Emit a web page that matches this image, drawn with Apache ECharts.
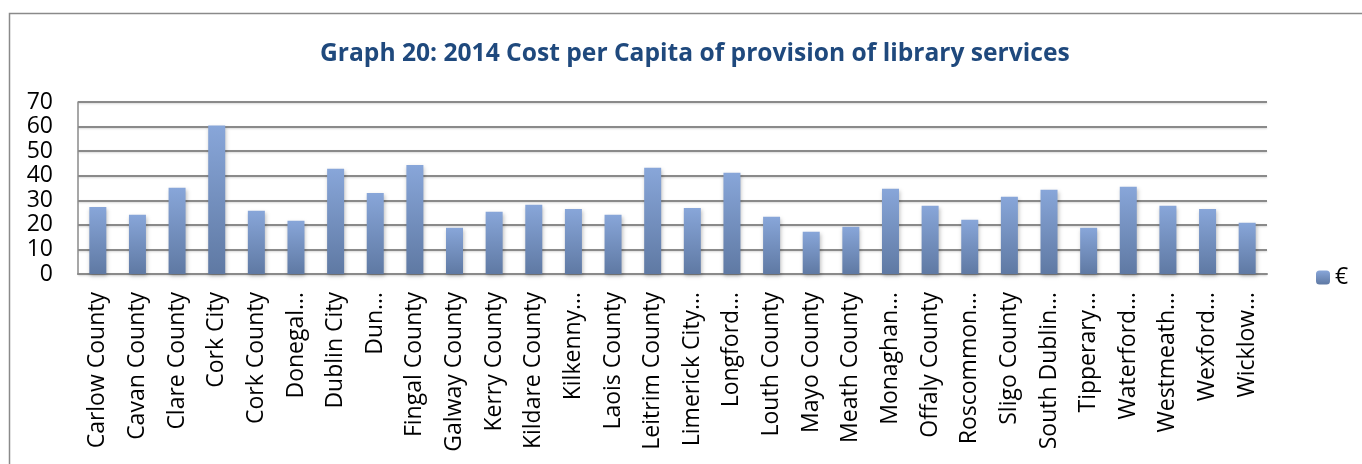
<!DOCTYPE html>
<html>
<head>
<meta charset="utf-8">
<script src="https://cdn.jsdelivr.net/npm/echarts@6/dist/echarts.min.js"></script>
<style>
html,body{margin:0;padding:0;background:#fff;}
#chart{width:1362px;height:464px;}
</style>
</head>
<body>
<div id="chart"></div>
<script>
const categories = ["Carlow County","Cavan County","Clare County","Cork City","Cork County","Donegal\u2026","Dublin City","Dun\u2026","Fingal County","Galway County","Kerry County","Kildare County","Kilkenny\u2026","Laois County","Leitrim County","Limerick City\u2026","Longford\u2026","Louth County","Mayo County","Meath County","Monaghan\u2026","Offaly County","Roscommon\u2026","Sligo County","South Dublin\u2026","Tipperary\u2026","Waterford\u2026","Westmeath\u2026","Wexford\u2026","Wicklow\u2026"];
const costPerCapita = [27.3,24.1,35.1,60.4,25.7,21.7,42.8,33.0,44.4,18.8,25.3,28.2,26.5,24.1,43.2,26.9,41.2,23.3,17.2,19.2,34.7,27.8,22.1,31.4,34.3,18.8,35.5,27.8,26.5,20.9];
const seriesName = "€";
const titleText = "Graph 20: 2014 Cost per Capita of provision of library services";

const font = "'Open Sans', sans-serif";
const chart = echarts.init(document.getElementById('chart'), null, {renderer:'canvas'});
chart.setOption({
  animation:false,
  backgroundColor:'#fff',
  graphic:[{type:'rect', shape:{x:9.5,y:13.5,width:1400,height:500}, style:{fill:'none',stroke:'#8a8a8a',lineWidth:1.5}, silent:true, z:-1}],
  title:{text:titleText, left:315, top:36,
    textStyle:{fontFamily:font, fontWeight:'bold', fontSize:24.6, color:'#1F497D'}},
  legend:{data:[seriesName], left:1311, top:261, itemWidth:14, itemHeight:14, itemGap:6,
    textStyle:{fontFamily:font, fontSize:23, color:'#000'}},
  grid:{left:78, right:95, top:102, bottom:190, containLabel:false},
  xAxis:{type:'category', data:categories,
    axisLine:{show:true, lineStyle:{color:'#8a8a8a', width:2}},
    axisTick:{show:false},
    axisLabel:{interval:0, rotate:90, margin:18, fontFamily:font, fontSize:23, color:'#000'}},
  yAxis:{type:'value', min:0, max:70, interval:10,
    axisLine:{show:true, lineStyle:{color:'#8a8a8a', width:1.5}},
    axisTick:{show:false},
    axisLabel:{margin:25, fontFamily:font, fontSize:23, color:'#000'},
    splitLine:{lineStyle:{color:'#8a8a8a', width:2, shadowColor:'rgba(0,0,0,0.15)', shadowBlur:2, shadowOffsetY:1}}},
  series:[{name:seriesName, type:'bar', data:costPerCapita, barWidth:17,
    itemStyle:{
      color:new echarts.graphic.LinearGradient(0,0,0,1,[{offset:0,color:'#88A6D9'},{offset:1,color:'#5F79A3'}]),
      shadowColor:'rgba(0,0,0,0.25)', shadowBlur:4, shadowOffsetX:1, shadowOffsetY:2
    }}]
});
</script>
</body>
</html>
